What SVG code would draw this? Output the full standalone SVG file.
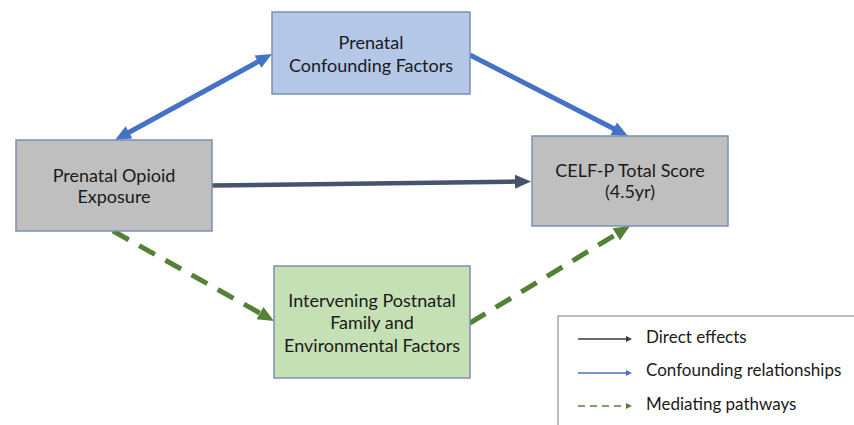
<svg xmlns="http://www.w3.org/2000/svg" width="854" height="425" viewBox="0 0 854 425">
<style>
.box{stroke:#7b8fb5;stroke-width:1.5}
.grey{fill:#bfbfbf}
.blue{fill:#b4c7e7}
.green{fill:#c5e0b4}
text{font-family:Lato,"Open Sans","Liberation Sans",sans-serif;font-size:18px;fill:#1a1a1a;text-anchor:middle}
.leg{text-anchor:start;font-size:17px}
.c-blue{stroke:#4472c4;stroke-width:5;fill:none}
.c-dark{stroke:#44546a;stroke-width:4.5;fill:none}
.c-green{stroke:#538135;stroke-width:5;fill:none;stroke-dasharray:18 12}
</style>
<defs>
<marker id="hb" viewBox="0 0 16 14" markerWidth="16" markerHeight="14" refX="4" refY="7" orient="auto-start-reverse" markerUnits="userSpaceOnUse" overflow="visible"><path d="M0,0 L16,7 L0,14 Z" fill="#4472c4"/></marker>
<marker id="hd" viewBox="0 0 16 14" markerWidth="16" markerHeight="14" refX="4" refY="7" orient="auto" markerUnits="userSpaceOnUse" overflow="visible"><path d="M0,0 L16,7 L0,14 Z" fill="#44546a"/></marker>
<marker id="hg" viewBox="0 0 16 14" markerWidth="16" markerHeight="14" refX="4" refY="7" orient="auto" markerUnits="userSpaceOnUse" overflow="visible"><path d="M0,0 L16,7 L0,14 Z" fill="#538135"/></marker>
<marker id="ld" viewBox="0 0 6 6" markerWidth="6" markerHeight="6" refX="1" refY="3" orient="auto" markerUnits="userSpaceOnUse"><path d="M0,0 L6,3 L0,6 Z" fill="#3a3a3a"/></marker>
<marker id="lb" viewBox="0 0 6 6" markerWidth="6" markerHeight="6" refX="1" refY="3" orient="auto" markerUnits="userSpaceOnUse"><path d="M0,0 L6,3 L0,6 Z" fill="#4472c4"/></marker>
<marker id="lg" viewBox="0 0 6 6" markerWidth="6" markerHeight="6" refX="1" refY="3" orient="auto" markerUnits="userSpaceOnUse"><path d="M0,0 L6,3 L0,6 Z" fill="#538135"/></marker>
</defs>
<rect width="854" height="425" fill="#ffffff"/>

<g id="connectors">
<line class="c-blue" x1="125.5" y1="134.2" x2="261.5" y2="59.8" marker-start="url(#hb)" marker-end="url(#hb)"/>
<line class="c-blue" x1="470" y1="55" x2="617.3" y2="130.5" marker-end="url(#hb)"/>
<line class="c-dark" x1="212" y1="185.5" x2="519" y2="181.6" marker-end="url(#hd)"/>
<line class="c-green" x1="113" y1="231" x2="263.5" y2="315.1" marker-end="url(#hg)"/>
<line class="c-green" x1="470" y1="323" x2="619.7" y2="232.2" marker-end="url(#hg)"/>
</g>

<g id="confounding">
<rect class="box blue" x="272" y="12" width="198" height="82"/>
<text x="371" y="49">Prenatal</text>
<text x="371" y="72">Confounding Factors</text>
</g>

<g id="exposure">
<rect class="box grey" x="16" y="140" width="196" height="91"/>
<text x="114" y="182">Prenatal Opioid</text>
<text x="114" y="203">Exposure</text>
</g>

<g id="outcome">
<rect class="box grey" x="532" y="136" width="196" height="90"/>
<text x="630" y="177">CELF-P Total Score</text>
<text x="630" y="198">(4.5yr)</text>
</g>

<g id="mediators">
<rect class="box green" x="274" y="266" width="196" height="112"/>
<text x="372" y="307">Intervening Postnatal</text>
<text x="372" y="329">Family and</text>
<text x="372" y="352">Environmental Factors</text>
</g>

<g id="legend">
<rect x="558" y="316" width="310" height="120" fill="#ffffff" stroke="#7f7f7f" stroke-width="1"/>
<line x1="578" y1="339" x2="627" y2="339" stroke="#3a3a3a" stroke-width="1.5" marker-end="url(#ld)"/>
<line x1="578" y1="373" x2="627" y2="373" stroke="#4472c4" stroke-width="1.5" marker-end="url(#lb)"/>
<line x1="578" y1="406" x2="627" y2="406" stroke="#538135" stroke-width="1.5" stroke-dasharray="7 5" marker-end="url(#lg)"/>
<text class="leg" x="646" y="343">Direct effects</text>
<text class="leg" x="646" y="376">Confounding relationships</text>
<text class="leg" x="646" y="410">Mediating pathways</text>
</g>
</svg>
